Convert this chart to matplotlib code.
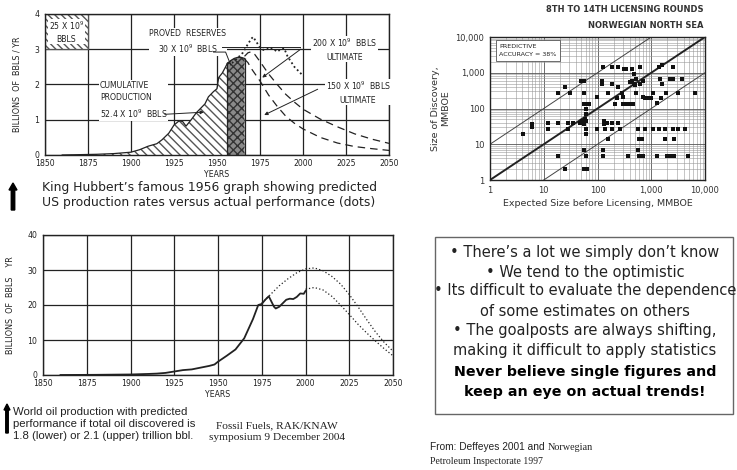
import numpy as np
import matplotlib
matplotlib.use("Agg")
import matplotlib.pyplot as plt
from matplotlib.patches import Rectangle, FancyArrow

# ---- Hubbert 1956 (US) ----
hub_years = [1860, 1870, 1880, 1890, 1900, 1905, 1910, 1915, 1918, 1922, 1925, 1928, 1930, 1932,
             1935, 1938, 1940, 1943, 1945, 1948, 1950, 1951, 1953, 1955, 1956]
hub_prod = [0.0, 0.01, 0.02, 0.04, 0.08, 0.15, 0.25, 0.32, 0.43, 0.62, 0.85, 0.97, 0.95, 0.82,
            1.0, 1.2, 1.3, 1.45, 1.65, 1.8, 1.88, 2.2, 2.32, 2.5, 2.6]
res_years = [1956, 1958, 1960, 1962, 1964, 1966]
res_prod = [2.6, 2.68, 2.74, 2.77, 2.77, 2.74]
ult200_years = [1966, 1968, 1970, 1972, 1975, 1980, 1985, 1990, 1995, 2000, 2010, 2020, 2030, 2040, 2050]
ult200_prod = [2.8, 2.9, 2.93, 2.85, 2.65, 2.3, 2.0, 1.72, 1.5, 1.3, 1.02, 0.8, 0.6, 0.45, 0.33]
ult150_years = [1966, 1968, 1970, 1975, 1980, 1985, 1990, 1995, 2000, 2010, 2020, 2030, 2040, 2050]
ult150_prod = [2.72, 2.62, 2.45, 2.1, 1.7, 1.38, 1.1, 0.9, 0.74, 0.5, 0.34, 0.24, 0.18, 0.13]
act_years = [1956, 1959, 1962, 1965, 1968, 1970, 1971, 1973, 1975, 1977, 1979, 1981, 1983, 1985,
             1987, 1989, 1991, 1993, 1995, 1997, 2000]
act_prod = [2.6, 2.62, 2.75, 2.9, 3.15, 3.3, 3.35, 3.2, 3.05, 2.98, 3.0, 3.05, 3.0, 2.93,
            3.0, 3.03, 2.8, 2.65, 2.5, 2.4, 2.25]

# ---- Norwegian licensing rounds ----
exp_size = [4.2, 6, 6, 12, 12, 18.7, 18.7, 18.7, 25, 25, 28, 28, 31, 35, 49, 55, 55, 48, 52, 55, 58, 62,
            55, 62, 70, 60, 60, 62, 62, 55, 62, 55, 65, 97, 97, 120, 120, 128, 130, 130, 135, 128, 128,
            150, 160, 160, 183, 183, 190, 190, 213, 228, 245, 245, 245, 260, 280, 300, 300, 350, 400,
            450, 310, 345, 370, 435, 400, 440, 480, 520, 470, 500, 520, 560, 560, 600, 700, 620, 700,
            750, 600, 680, 620, 700, 760, 800, 900, 1000, 1100, 1100, 1260, 1260, 1400, 1600, 1500,
            1450, 1400, 1600, 1800, 1800, 1900, 2200, 2500, 2500, 2500, 2000, 2300, 2600, 2700, 3200,
            3200, 3700, 4200, 4800, 6500]
disc_size = [19, 37, 31, 40, 27, 40, 4.7, 276, 390, 2.0, 40, 27, 276, 40, 600, 600, 276, 40, 45, 38, 50,
             45, 134, 134, 134, 70, 95, 27, 19, 7, 4.7, 2.0, 2.0, 214, 27, 600, 500, 1480, 45, 38, 27,
             7, 4.7, 40, 265, 14, 1480, 500, 40, 27, 134, 193, 1480, 390, 40, 27, 276, 214, 134, 134,
             134, 134, 1250, 1250, 4.7, 1250, 550, 600, 500, 650, 900, 450, 276, 27, 7, 4.7, 4.7, 1480,
             214, 193, 14, 14, 500, 600, 27, 193, 193, 193, 276, 27, 4.7, 140, 1480, 1700, 193, 650,
             27, 500, 27, 14, 276, 650, 650, 1480, 27, 4.7, 4.7, 4.7, 14, 27, 276, 650, 27, 4.7, 276]

# ---- World production (Deffeyes) ----
world_years = [1860, 1880, 1900, 1910, 1915, 1920, 1925, 1930, 1935, 1940, 1945, 1948, 1950, 1955,
               1960, 1965, 1970, 1973, 1975, 1977, 1979, 1980, 1982, 1983, 1985, 1987, 1989, 1991,
               1993, 1995, 1997, 1999, 2000]
world_prod = [0.0, 0.05, 0.15, 0.3, 0.4, 0.6, 1.0, 1.4, 1.6, 2.1, 2.6, 3.0, 3.8, 5.5,
              7.3, 10.5, 16.0, 20.0, 20.3, 21.5, 22.5, 21.5, 19.5, 19.0, 19.5, 20.5, 21.5, 21.8,
              21.7, 22.3, 23.3, 23.2, 24.0]
upper_years = [1975, 1980, 1985, 1990, 1995, 2000, 2005, 2010, 2015, 2020, 2025, 2030, 2035, 2040, 2045, 2050]
upper_prod = [20.5, 23, 25.5, 27.5, 29.2, 30.3, 30.6, 29.8, 28.2, 26, 23, 19.5, 15.8, 12.3, 9.3, 6.8]
lower_years = [2000, 2005, 2010, 2015, 2020, 2025, 2030, 2035, 2040, 2045, 2050]
lower_prod = [24.5, 25, 24.3, 22.5, 20, 17.3, 14.5, 12, 9.7, 7.5, 5.5]

year_ticks = list(range(1850, 2051, 25))
hub_yticks = [0, 1, 2, 3, 4]
world_yticks = [0, 10, 20, 30, 40]
bullets = ["\u2022 There\u2019s a lot we simply don\u2019t know",
           "\u2022 We tend to the optimistic",
           "\u2022 Its difficult to evaluate the dependence",
           "of some estimates on others",
           "\u2022 The goalposts are always shifting,",
           "making it difficult to apply statistics"]
bold_lines = ["Never believe single figures and", "keep an eye on actual trends!"]

W, H = 737, 470
fig = plt.figure(figsize=(W / 100, H / 100), dpi=100)
fig.patch.set_facecolor("white")


def box(l, t, r, b):
    return [l / W, 1 - b / H, (r - l) / W, (b - t) / H]


ink = "#222222"
sm = dict(fontsize=5.6, color=ink, family="DejaVu Sans")

# ---------------- Hubbert chart ----------------
ax1 = fig.add_axes(box(45, 14, 389, 155))
ax1.set_xlim(1850, 2050)
ax1.set_ylim(0, 4)
ax1.set_xticks(year_ticks)
ax1.set_yticks(hub_yticks)
ax1.grid(True, color=ink, lw=0.9)
ax1.tick_params(labelsize=5.6, length=0, colors=ink)
ax1.tick_params(axis="x", pad=3)
ax1.tick_params(axis="y", pad=4)
for s in ax1.spines.values():
    s.set_color(ink)
    s.set_linewidth(1.0)
ax1.fill_between(hub_years, hub_prod, facecolor="white", edgecolor="#555555", hatch="\\\\\\\\", lw=0, zorder=2)
ax1.plot(hub_years, hub_prod, color=ink, lw=0.9, zorder=3)
ax1.fill_between(res_years, res_prod, facecolor="#8a8a8a", edgecolor="#333333", hatch="xxxx", lw=0, zorder=2)
ax1.plot(res_years, res_prod, color=ink, lw=0.9, zorder=3)
ax1.vlines([1956, 1966], 0, [2.6, 2.74], color=ink, lw=0.9, zorder=3)
ax1.plot(ult200_years, ult200_prod, color=ink, lw=0.9, ls=(0, (6, 4)), zorder=3)
ax1.plot(ult150_years, ult150_prod, color=ink, lw=0.9, ls=(0, (6, 4)), zorder=3)
ax1.plot(act_years, act_prod, color=ink, lw=1.3, ls=(0, (1, 1.5)), zorder=4)
ax1.add_patch(Rectangle((1850, 3), 25, 1, facecolor="white", edgecolor="#555555", hatch="\\\\\\\\\\", lw=0.9, zorder=2))
ax1.text(1862.5, 3.5, "25 X 10$^9$\nBBLS", ha="center", va="center", zorder=5,
         bbox=dict(facecolor="white", edgecolor="none", pad=0.5), linespacing=1.4, **sm)
ax1.text(1933, 3.2, "PROVED  RESERVES\n30 X 10$^9$  BBLS", ha="center", va="center", zorder=5,
         bbox=dict(facecolor="white", edgecolor="none", pad=0.5), linespacing=1.5, **sm)
ax1.plot([1948, 1955, 1958], [2.92, 2.92, 2.55], color=ink, lw=0.7, zorder=5)
ax1.plot([1953, 1998], [3.05, 3.05], color=ink, lw=0.7, zorder=5)
ax1.text(1882, 1.55, "CUMULATIVE\nPRODUCTION\n52.4 X 10$^9$  BBLS", ha="left", va="center", zorder=5,
         bbox=dict(facecolor="white", edgecolor="none", pad=0.5), linespacing=1.5, **sm)
ax1.annotate("", xy=(1944, 1.22), xytext=(1918, 1.15),
             arrowprops=dict(arrowstyle="-|>", color=ink, lw=0.7, mutation_scale=5), zorder=5)
ax1.text(2024, 3.0, "200 X 10$^9$  BBLS\nULTIMATE", ha="center", va="center", zorder=5,
         bbox=dict(facecolor="white", edgecolor="none", pad=0.5), linespacing=1.5, **sm)
ax1.annotate("", xy=(1975, 2.15), xytext=(2000, 3.05),
             arrowprops=dict(arrowstyle="-|>", color=ink, lw=0.7, mutation_scale=5), zorder=5)
ax1.text(2032, 1.78, "150 X 10$^9$  BBLS\nULTIMATE", ha="center", va="center", zorder=5,
         bbox=dict(facecolor="white", edgecolor="none", pad=0.5), linespacing=1.5, **sm)
ax1.annotate("", xy=(1976, 1.1), xytext=(2010, 1.9),
             arrowprops=dict(arrowstyle="-|>", color=ink, lw=0.7, mutation_scale=5), zorder=5)
ax1.set_xlabel("YEARS", fontsize=5.6, color=ink, labelpad=1)
ax1.set_ylabel("BILLIONS  OF  BBLS / YR", fontsize=5.8, color=ink, labelpad=9)

fig.text(42 / W, 1 - 187 / H, "King Hubbert\u2019s famous 1956 graph showing predicted",
         fontsize=8.9, color=ink, va="center", ha="left", family="DejaVu Sans")
fig.text(42 / W, 1 - 202 / H, "US production rates versus actual performance (dots)",
         fontsize=8.9, color=ink, va="center", ha="left", family="DejaVu Sans")
fig.add_artist(FancyArrow(13 / W, 1 - 210 / H, 0, 27 / H, width=2.2 / H, head_width=8 / W,
                          head_length=7 / H, color="black", transform=fig.transFigure, length_includes_head=True))

# ---------------- Norwegian scatter ----------------
ax2 = fig.add_axes(box(490, 37, 705, 180))
ax2.set_xscale("log")
ax2.set_yscale("log")
ax2.set_xlim(1, 10000)
ax2.set_ylim(1, 10000)
dec = [1, 10, 100, 1000, 10000]
ax2.set_xticks(dec)
ax2.set_yticks(dec)
ax2.set_xticklabels(["1", "10", "100", "1,000", "10,000"])
ax2.set_yticklabels(["1", "10", "100", "1,000", "10,000"])
ax2.grid(True, which="major", color="#555555", lw=0.6)
ax2.grid(True, which="minor", color="#999999", lw=0.4)
ax2.tick_params(which="both", length=0, labelsize=6, pad=4, colors="#333333")
for s in ax2.spines.values():
    s.set_color(ink)
    s.set_linewidth(1.0)
ax2.plot(dec, dec, color=ink, lw=1.4)
ax2.plot(dec, [d * 10 for d in dec], color="#444444", lw=0.7)
ax2.plot(dec, [d / 10 for d in dec], color="#444444", lw=0.7)
ax2.scatter(exp_size, disc_size, s=7, marker="s", color="#111111", zorder=4, lw=0)
ax2.text(1.5, 6500, "PREDICTIVE\nACCURACY = 38%", fontsize=4.6, color=ink, va="top", ha="left",
         linespacing=1.9, bbox=dict(facecolor="white", edgecolor="#555555", lw=0.6, pad=2.5), zorder=5)
ax2.set_xlabel("Expected Size before Licensing, MMBOE", fontsize=6.8, color="#333333", labelpad=3)
ax2.set_ylabel("Size of Discovery,\nMMBOE", fontsize=6.8, color="#333333", labelpad=4)
fig.text(703 / W, 1 - 10 / H, "8TH TO 14TH LICENSING ROUNDS", fontsize=6.0, weight="bold",
         color="#333333", ha="right", va="center")
fig.text(703 / W, 1 - 25 / H, "NORWEGIAN NORTH SEA", fontsize=6.0, weight="bold",
         color="#333333", ha="right", va="center")

# ---------------- World production ----------------
ax3 = fig.add_axes(box(43, 235, 393, 375))
ax3.set_xlim(1850, 2050)
ax3.set_ylim(0, 40)
ax3.set_xticks(year_ticks)
ax3.set_yticks(world_yticks)
ax3.grid(True, color=ink, lw=0.9)
ax3.tick_params(labelsize=5.6, length=0, colors=ink)
ax3.tick_params(axis="x", pad=3)
ax3.tick_params(axis="y", pad=4)
for s in ax3.spines.values():
    s.set_color(ink)
    s.set_linewidth(1.0)
ax3.plot(world_years, world_prod, color=ink, lw=1.3, zorder=3)
ax3.plot(upper_years, upper_prod, color=ink, lw=0.9, ls=(0, (1, 1.8)), zorder=3)
ax3.plot(lower_years, lower_prod, color=ink, lw=0.9, ls=(0, (1, 1.8)), zorder=3)
ax3.set_xlabel("YEARS", fontsize=5.6, color=ink, labelpad=1)
ax3.set_ylabel("BILLIONS  OF  BBLS    YR", fontsize=5.8, color=ink, labelpad=9)

fig.add_artist(FancyArrow(7 / W, 1 - 433 / H, 0, 29 / H, width=1.6 / H, head_width=6 / W,
                          head_length=6 / H, color="black", transform=fig.transFigure, length_includes_head=True))
fig.text(13 / W, 1 - 424 / H, "World oil production with predicted\n"
         "performance if total oil discovered is\n1.8 (lower) or 2.1 (upper) trillion bbl.",
         fontsize=8.2, color=ink, va="center", ha="left", linespacing=1.2, family="Liberation Sans")
fig.text(277 / W, 1 - 432 / H, "Fossil Fuels, RAK/KNAW\nsymposium 9 December 2004",
         fontsize=8.2, color=ink, va="center", ha="center", linespacing=1.35, family="Liberation Serif")
fig.text(430 / W, 1 - 447 / H, "From: Deffeyes 2001 and", fontsize=7.3, color=ink,
         va="center", ha="left", family="Liberation Sans")
fig.text(548 / W, 1 - 447 / H, "Norwegian", fontsize=7.3, color=ink,
         va="center", ha="left", family="Liberation Serif")
fig.text(430 / W, 1 - 462 / H, "Petroleum Inspectorate 1997", fontsize=7.0, color=ink,
         va="center", ha="left", family="Liberation Serif")

# ---------------- Text box ----------------
fig.add_artist(Rectangle((435 / W, 1 - 414 / H), 298 / W, 177 / H, transform=fig.transFigure,
                         facecolor="white", edgecolor="#666666", lw=1.0))
ys = [252, 272, 291, 311, 331, 351]
for y, line in zip(ys, bullets):
    fig.text(585 / W, 1 - y / H, line, fontsize=10.5, color=ink, ha="center", va="center", family="DejaVu Sans")
for y, line in zip([372, 392], bold_lines):
    fig.text(585 / W, 1 - y / H, line, fontsize=10.3, color="black", weight="bold", ha="center",
             va="center", family="DejaVu Sans")

fig.savefig("out.png", dpi=100)
